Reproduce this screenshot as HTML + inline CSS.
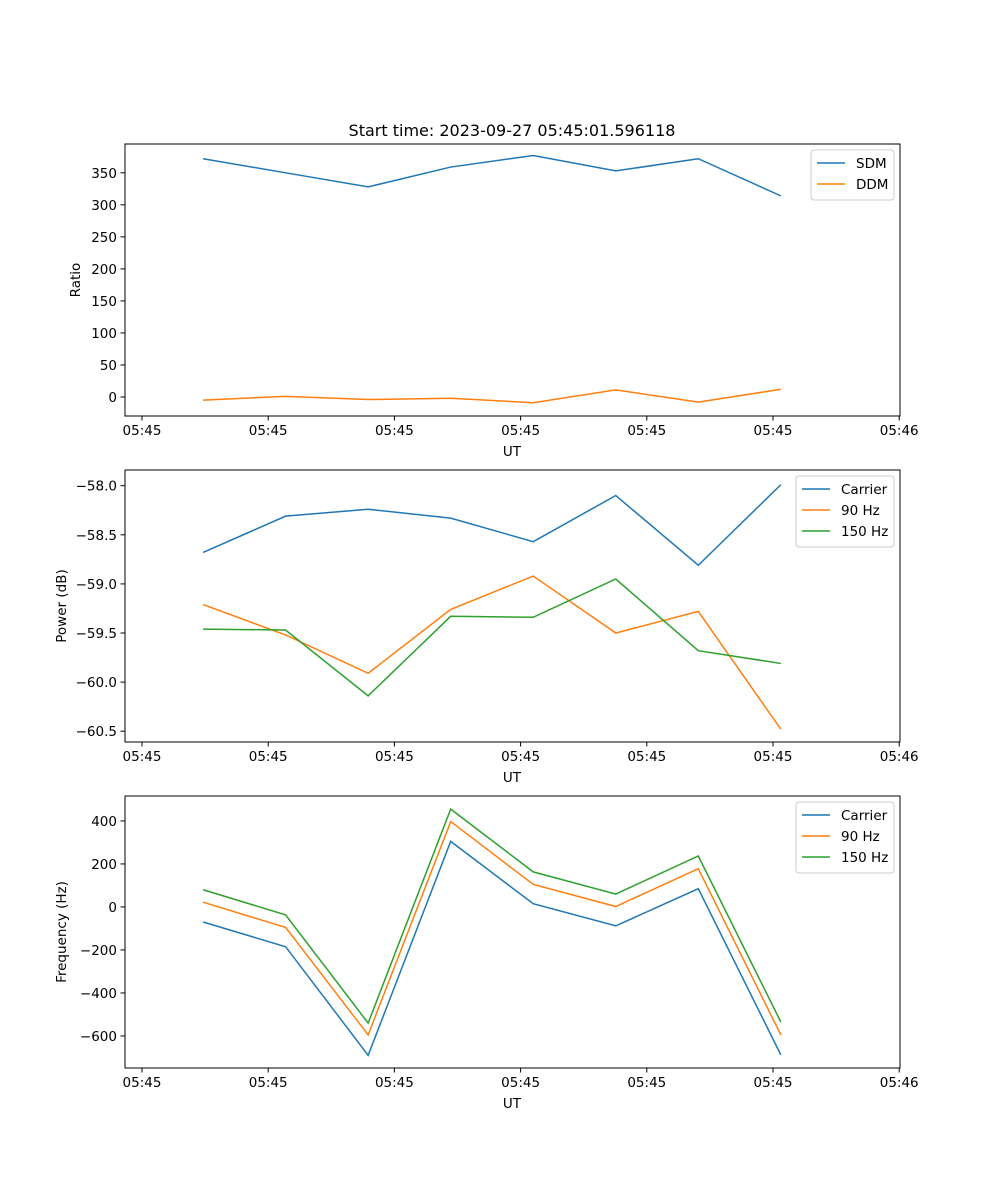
<!DOCTYPE html>
<html><head><meta charset="utf-8"><style>
body{margin:0;background:#fff}
svg{display:block;font-family:"DejaVu Sans","Liberation Sans",sans-serif}
</style></head><body>
<svg id="fig" width="1000" height="1200" xmlns="http://www.w3.org/2000/svg">
<rect width="1000" height="1200" fill="#fff"/>
<text x="512" y="136" text-anchor="middle" font-size="16">Start time: 2023-09-27 05:45:01.596118</text>
</svg>
<script>
// x in tick units (one unit per x tick)
const times=[0.484,1.138,1.792,2.446,3.100,3.754,4.408,5.062];
const xTickLabels=["05:45","05:45","05:45","05:45","05:45","05:45","05:46"];
const sdm=[372,350,328,359,377,353,372,314];
const ddm=[-5,1,-4,-2,-9,11,-8,12];
const ratioTicks=[0,50,100,150,200,250,300,350];
const carrierPower=[-58.68,-58.31,-58.24,-58.33,-58.57,-58.10,-58.81,-57.99];
const hz90Power=[-59.21,-59.52,-59.91,-59.26,-58.92,-59.50,-59.28,-60.48];
const hz150Power=[-59.46,-59.47,-60.14,-59.33,-59.34,-58.95,-59.68,-59.81];
const powerTicks=[-60.5,-60.0,-59.5,-59.0,-58.5,-58.0];
const carrierFreq=[-70,-185,-690,305,15,-88,85,-688];
const hz90Freq=[22,-95,-595,397,105,2,178,-595];
const hz150Freq=[80,-37,-540,455,163,60,237,-535];
const freqTicks=[-600,-400,-200,0,200,400];

const NS="http://www.w3.org/2000/svg";
const svg=document.getElementById('fig');
function mk(tag,attrs,parent){const e=document.createElementNS(NS,tag);for(const k in attrs)e.setAttribute(k,attrs[k]);(parent||svg).appendChild(e);return e;}
const L=125,R=900;
const xs=v=>142+v*126.2;
function panel(key,top,ymin,ymax,ticks,fmt,ylabel,series){
  const bot=top+272;
  const g=mk('g',{});
  
  
  const ys=v=>bot-(v-ymin)/(ymax-ymin)*272;
  series.forEach(s=>{
    const p=mk('polyline',{points:s.v.map((v,i)=>xs(times[i])+','+ys(v)).join(' '),fill:'none',stroke:s.c,'stroke-width':1.5},g);
    
    
  });
  const fr=mk('rect',{x:L,y:top,width:R-L,height:272,fill:'none',stroke:'#000','stroke-width':1},g);
  
  
  xTickLabels.forEach((t,i)=>{
    const x=xs(i);
    mk('line',{x1:x,x2:x,y1:bot,y2:bot+4.5,stroke:'#000'},g);
    const tx=mk('text',{x:x,y:bot+19,'text-anchor':'middle','font-size':13.5},g);
    tx.textContent=t;
    
    
  });
  ticks.forEach(v=>{
    const y=ys(v);
    mk('line',{x1:L,x2:L-4.5,y1:y,y2:y,stroke:'#000'},g);
    const tx=mk('text',{x:L-8,y:y+5,'text-anchor':'end','font-size':13.5},g);
    tx.textContent=fmt(v);
    
    
  });
  const xl=mk('text',{x:512,y:bot+40,'text-anchor':'middle','font-size':13.5},g);
  xl.textContent='UT';
  
  
  const yx=key==='ratio'?80:66;
  const yl=mk('text',{x:yx,y:top+136,'text-anchor':'middle','font-size':13.5,transform:`rotate(-90 ${yx} ${top+136})`},g);
  yl.textContent=ylabel;
  
  
  // legend
  const lw=key==='ratio'?83:98, lh=8+series.length*21;
  const lx=R-6-lw, ly=top+6;
  const lg=mk('g',{},g);
  
  
  mk('rect',{x:lx,y:ly,width:lw,height:lh,rx:3,fill:'#fff','fill-opacity':0.8,stroke:'#ccc'},lg);
  series.forEach((s,i)=>{
    const y=ly+13+i*21;
    mk('line',{x1:lx+6,x2:lx+34,y1:y,y2:y,stroke:s.c,'stroke-width':1.5},lg);
    const t=mk('text',{x:lx+45,y:y+5,'font-size':13.5},lg);
    t.textContent=s.n;
    
    
  });
}
const B='#1f77b4',O='#ff7f0e',G='#2ca02c';
panel('ratio',144,-29.7,395,ratioTicks,v=>String(v),'Ratio',[{n:'SDM',v:sdm,c:B},{n:'DDM',v:ddm,c:O}]);
panel('power',470,-60.61,-57.84,powerTicks,v=>'\u2212'+Math.abs(v).toFixed(1),'Power (dB)',[{n:'Carrier',v:carrierPower,c:B},{n:'90 Hz',v:hz90Power,c:O},{n:'150 Hz',v:hz150Power,c:G}]);
panel('frequency',796,-749,516,freqTicks,v=>v<0?'\u2212'+Math.abs(v):String(v),'Frequency (Hz)',[{n:'Carrier',v:carrierFreq,c:B},{n:'90 Hz',v:hz90Freq,c:O},{n:'150 Hz',v:hz150Freq,c:G}]);
</script>
</body></html>
